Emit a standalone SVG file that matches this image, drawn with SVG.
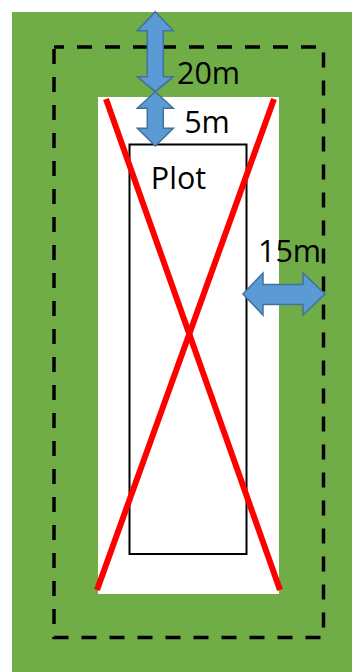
<svg xmlns="http://www.w3.org/2000/svg" width="352" height="672" viewBox="0 0 352 672">
  <style>
    .lbl { font-family: "Open Sans", "Liberation Sans", sans-serif; font-size: 30.5px; fill: #000; text-anchor: middle; }
    .dim { fill: #5B9BD5; stroke: #41719C; stroke-width: 1.5; stroke-linejoin: miter; }
    .cross { stroke: #FF0000; stroke-width: 6; stroke-linecap: butt; fill: none; }
  </style>

  <!-- outer buffer zone -->
  <g id="buffer-zone">
    <rect x="12" y="12" width="340" height="660" fill="#70AD47"/>
  </g>

  <!-- survey boundary (dashed) -->
  <g id="boundary">
    <rect x="54" y="47" width="269.5" height="590.5" fill="none" stroke="#000" stroke-width="3.5" stroke-dasharray="15 13" stroke-dashoffset="5"/>
  </g>

  <!-- cleared area -->
  <g id="cleared-area">
    <rect x="98" y="97" width="181" height="497" fill="#FFFFFF"/>
  </g>

  <!-- plot -->
  <g id="plot">
    <rect x="129.5" y="144.5" width="117" height="409.5" fill="none" stroke="#000" stroke-width="2"/>
    <text class="lbl" x="178.5" y="189">Plot</text>
  </g>

  <!-- excluded area cross -->
  <g id="cross">
    <line class="cross" x1="106" y1="99" x2="280" y2="590"/>
    <line class="cross" x1="274" y1="99" x2="97" y2="590"/>
  </g>

  <!-- dimension arrows -->
  <g id="connectors">
    <!-- 20m: top of buffer to cleared area -->
    <path class="dim" d="M155.3,11.7 L173.3,30.7 L163.3,30.7 L163.3,76.7 L173.3,76.7 L155.3,91.7 L137.3,76.7 L147.3,76.7 L147.3,30.7 L137.3,30.7 Z"/>
    <!-- 5m: cleared area to plot -->
    <path class="dim" d="M155.3,91.7 L173.3,108.3 L163.3,108.3 L163.3,128.3 L173.3,128.3 L155.3,146 L137.3,128.3 L147.3,128.3 L147.3,108.3 L137.3,108.3 Z"/>
    <!-- 15m: plot to boundary -->
    <path class="dim" d="M243,294 L263,273 L263,284.5 L303,284.5 L303,273 L325,294 L303,315 L303,304.5 L263,304.5 L263,315 Z"/>
  </g>

  <!-- dimension labels -->
  <g id="labels">
    <text class="lbl" x="208.5" y="84">20m</text>
    <text class="lbl" x="207" y="133">5m</text>
    <text class="lbl" x="289.5" y="262">15m</text>
  </g>
</svg>
